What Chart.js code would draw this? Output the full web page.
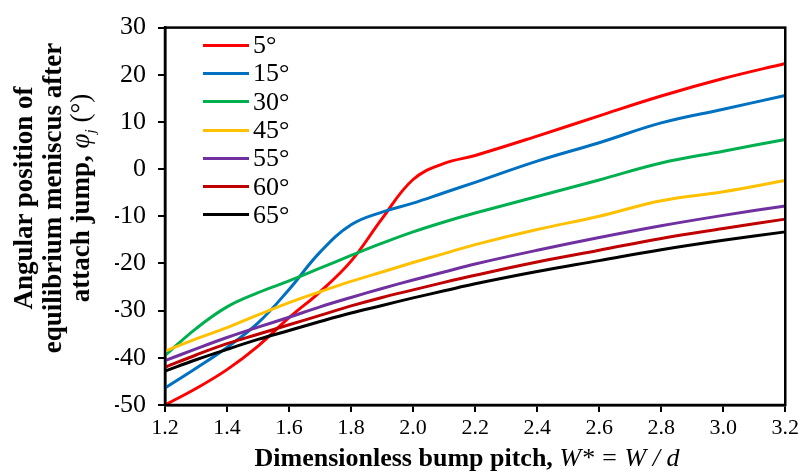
<!DOCTYPE html>
<html>
<head>
<meta charset="utf-8">
<script src="https://cdn.jsdelivr.net/npm/chart.js@4.4.1/dist/chart.umd.min.js"></script>
<style>
    html, body { margin: 0; padding: 0; background: #fff; }
    #wrap { position: relative; width: 802px; height: 473px; font-family: "Liberation Serif", "DejaVu Serif", serif; }
    #chart { position: absolute; left: 0; top: 0; }
    #yTitle {
        position: absolute; left: 57px; top: 198px; width: 440px;
        transform: translate(-50%, -50%) rotate(-90deg);
        text-align: center; font-family: "Liberation Serif", serif; font-weight: bold;
        font-size: 27px; line-height: 28.5px; color: #000;
    }
    #xTitle {
        position: absolute; left: 467px; top: 458px; transform: translate(-50%, -50%);
        white-space: nowrap; font-family: "Liberation Serif", serif; font-weight: bold; font-size: 26px; color: #000;
    }
    .it { font-style: italic; font-weight: normal; }
    #legend { position: absolute; left: 203px; top: 31px; }
    .row { display: flex; align-items: center; height: 28.3px; }
    .swatch { width: 46px; height: 3px; margin-right: 4px; }
    .lbl { font-family: "Liberation Serif", serif; font-size: 26px; color: #000; }
</style>
</head>
<body>
<div id="wrap">
    <canvas id="chart" width="802" height="473"></canvas>
    <div id="yTitle">Angular position of<br>equilibrium meniscus after<br>attach jump, <span class="it">&phi;<sub style="font-size:15px">j</sub></span> <span style="font-weight:normal">(&deg;)</span></div>
    <div id="xTitle">Dimensionless bump pitch, <span class="it">W* = W / d</span></div>
    <div id="legend"></div>
</div>
<script>
// --- DỮ LIỆU --- //
const pitch = [1.2, 1.3, 1.4, 1.5, 1.6, 1.7, 1.8, 1.9, 2.0, 2.1, 2.2, 2.4, 2.6, 2.8, 3.0, 3.2];
const angleLabels = ['5°', '15°', '30°', '45°', '55°', '60°', '65°'];
const deg5  = [-50, -46.5, -42.5, -37.5, -31.5, -26, -19.5, -10.5, -2.2, 1.2, 2.9, 7, 11.3, 15.5, 19.2, 22.4];
const deg15 = [-46.4, -42.2, -37.8, -32.6, -25.5, -17.6, -11.8, -9.1, -7.2, -5, -2.8, 1.7, 5.6, 9.8, 12.7, 15.6];
const deg30 = [-39.5, -33.8, -29.2, -26.2, -23.7, -21, -18.3, -15.7, -13.3, -11.2, -9.3, -5.8, -2.3, 1.3, 3.8, 6.3];
const deg45 = [-38.6, -36, -33.6, -30.9, -28.3, -26, -23.8, -21.8, -19.8, -17.9, -16, -12.8, -10, -6.7, -4.8, -2.4];
const deg55 = [-40.6, -38.1, -35.7, -33.5, -31.4, -29.2, -27.2, -25.3, -23.5, -21.8, -20.1, -17.2, -14.5, -12, -9.8, -7.8];
const deg60 = [-42, -39.4, -37, -35, -33, -31, -29, -27.2, -25.6, -24, -22.5, -19.7, -17.2, -14.7, -12.6, -10.6];
const deg65 = [-42.8, -40.4, -38.2, -36.1, -34.2, -32.3, -30.5, -28.9, -27.3, -25.8, -24.3, -21.7, -19.4, -17.1, -15.1, -13.3];
const seriesValues = [deg5, deg15, deg30, deg45, deg55, deg60, deg65];
const colors = ['#FF0000', '#0070C0', '#00B050', '#FFC000', '#7030A0', '#C00000', '#000000'];

// --- LEGEND (HTML) --- //
const legendBox = document.getElementById('legend');
angleLabels.forEach((label, i) => {
    const row = document.createElement('div');
    row.className = 'row';
    row.innerHTML = `<div class="swatch" style="background:${colors[i]}"></div><span class="lbl">${label}</span>`;
    legendBox.appendChild(row);
});

// khung viền quanh vùng vẽ
const frameBox = {
    id: 'frameBox',
    afterDatasetsDraw(chart) {
        const { ctx, chartArea: a } = chart;
        ctx.save();
        ctx.strokeStyle = '#000';
        ctx.lineWidth = 2.5;
        ctx.strokeRect(a.left, a.top, a.right - a.left, a.bottom - a.top);
        ctx.restore();
    }
};

const datasets = seriesValues.map((vals, i) => ({
    label: angleLabels[i],
    data: pitch.map((x, k) => ({ x: x, y: vals[k] })),
    borderColor: colors[i],
    borderWidth: 3,
    pointRadius: 0,
    tension: 0.4,
    fill: false,
    order: seriesValues.length - i
}));

const tickFont = { family: '"Liberation Serif", serif', size: 22 };

new Chart(document.getElementById('chart'), {
    type: 'line',
    data: { datasets },
    options: {
        responsive: false,
        animation: false,
        layout: { padding: { left: 115, right: 15, top: 24, bottom: 23 } },
        plugins: { legend: { display: false }, tooltip: { enabled: false } },
        scales: {
            x: {
                type: 'linear', min: 1.2, max: 3.2,
                ticks: { stepSize: 0.2, color: '#000', font: tickFont, padding: 3, maxRotation: 0,
                    callback: v => v.toFixed(1) },
                grid: { drawOnChartArea: false, color: '#000', lineWidth: 2, tickLength: 7 },
                border: { color: '#000', width: 2.5 },
                afterFit: s => { s.height = 45; }
            },
            y: {
                min: -50, max: 30,
                ticks: { stepSize: 10, color: '#000', font: { family: tickFont.family, size: 26 }, padding: 12 },
                grid: { drawOnChartArea: false, color: '#000', lineWidth: 2, tickLength: 7 },
                border: { color: '#000', width: 2.5 },
                afterFit: s => { s.width = 50; }
            }
        }
    },
    plugins: [frameBox]
});
</script>
</body>
</html>
